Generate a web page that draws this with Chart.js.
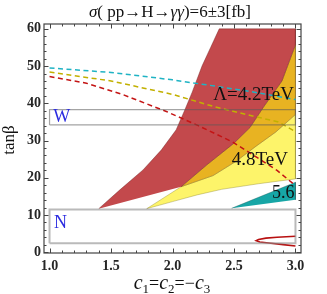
<!DOCTYPE html>
<html>
<head>
<meta charset="utf-8">
<script src="https://cdn.jsdelivr.net/npm/chart.js@4.4.1/dist/chart.umd.min.js"></script>
<style>
  html, body { margin: 0; padding: 0; background: #fff; }
  canvas { display: block; }
</style>
</head>
<body>
<canvas id="chart" width="327" height="294"></canvas>
<script>
// axis ticks
const xTicks = [1.0, 1.5, 2.0, 2.5, 3.0];
const yTicks = [0, 10, 20, 30, 40, 50, 60];

// Lambda = 4.2 TeV band (red): left edge, bottom to top
const redLeft = [[1.40, 11.7], [1.57, 16.7], [1.76, 22.1], [1.91, 27.5], [2.03, 32.9],
  [2.10, 38.2], [2.16, 43.0], [2.24, 50.0], [2.31, 55.0], [2.38, 60.0]];
// red / orange edge, bottom to top
const redRight = [[2.07, 17.6], [2.28, 23.5], [2.50, 29.3], [2.63, 33.5], [2.74, 39.0],
  [2.89, 46.0], [3.0, 55.7]];
// orange / yellow edge, bottom to top
const orangeLow = [[2.07, 17.6], [2.33, 20.6], [2.52, 24.5], [2.68, 28.5], [2.84, 32.3], [3.0, 37.0]];
// Lambda = 4.8 TeV band (yellow): lower edge
const yellowLow = [[1.79, 11.7], [2.0, 13.6], [2.2, 15.4], [2.4, 16.9], [2.7, 18.4], [3.0, 19.7]];
// Lambda = 5.6 TeV band (teal)
const tealEdge = [[2.48, 11.8], [3.0, 18.8], [3.0, 14.1]];

// dashed curves
const dashCyan = [[1.0, 49.5], [1.5, 48.3], [2.0, 46.3], [2.35, 44.6], [2.7, 42.8], [3.0, 41.0]];
const dashOlive = [[1.0, 48.4], [1.5, 46.0], [2.0, 42.4], [2.35, 39.0], [2.6, 37.0], [2.86, 35.0], [3.0, 32.4]];
const dashRed = [[1.0, 47.2], [1.3, 45.4], [1.6, 42.3], [1.95, 37.8], [2.21, 34.0], [2.49, 29.6],
  [2.68, 25.6], [2.85, 22.0], [3.0, 17.9]];
// small red contour near the bottom right
const redLoop = [[3.0, 4.3], [2.85, 4.05], [2.76, 3.8], [2.70, 3.45], [2.68, 3.1], [2.71, 2.75],
  [2.8, 2.4], [2.9, 2.05], [3.0, 1.7]];

// excluded strips W and N
const bandX = [1.0, 3.0];
const wBand = [34.2, 38.3];
const nBand = [2.4, 11.5];
const tanTop = 60;

const pts = list => list.map(p => ({ x: p[0], y: p[1] }));
const rect = (xs, ys) => pts([[xs[0], ys[0]], [xs[1], ys[0]], [xs[1], ys[1]], [xs[0], ys[1]], [xs[0], ys[0]]]);

const redPoly = [...redLeft, [bandX[1], tanTop], ...redRight.slice().reverse()];
const orangePoly = [...redRight, ...orangeLow.slice().reverse()];
const yellowPoly = [yellowLow[0], ...orangeLow, ...yellowLow.slice().reverse()];

const area = (data, fillColor, edge, order) => ({
  data: pts(data), showLine: true, fill: 'shape', backgroundColor: fillColor,
  borderColor: edge, borderWidth: 0.6, pointRadius: 0, order
});
const dash = (data, color, order) => ({
  data: pts(data), showLine: true, fill: false, borderColor: color,
  borderWidth: 1.5, borderDash: [5, 3.5], pointRadius: 0, order
});

const serif = "'Liberation Serif', 'DejaVu Serif', serif";

const labels = [
  { text: 'Λ=4.2TeV', x: 2.66, y: 42.2, size: 19, color: '#111' },
  { text: '4.8TeV', x: 2.71, y: 24.8, size: 19, color: '#111' },
  { text: '5.6', x: 2.90, y: 15.8, size: 18, color: '#111' },
  { text: 'W', x: 1.10, y: 36.2, size: 18, color: '#2b2be0' },
  { text: 'N', x: 1.09, y: 7.7, size: 18, color: '#2b2be0' }
];

const framePlugin = {
  id: 'frame',
  afterDraw(chart) {
    const ctx = chart.ctx;
    const a = chart.chartArea;
    const xs = chart.scales.x, ys = chart.scales.y;
    ctx.save();

    // labels in the plot
    ctx.textAlign = 'center';
    ctx.textBaseline = 'middle';
    labels.forEach(l => {
      ctx.font = l.size + 'px ' + serif;
      ctx.fillStyle = l.color;
      ctx.fillText(l.text, xs.getPixelForValue(l.x), ys.getPixelForValue(l.y));
    });

    // frame
    ctx.strokeStyle = '#444';
    ctx.lineWidth = 1.2;
    ctx.strokeRect(a.left, a.top, a.right - a.left, a.bottom - a.top);

    // ticks, inward on all four sides
    ctx.lineWidth = 1;
    ctx.beginPath();
    for (let i = 0; i <= 20; i++) {
      const v = xTicks[0] + i * 0.1;
      const px = Math.round(xs.getPixelForValue(v)) + 0.5;
      const len = i % 5 === 0 ? 4.5 : 2.5;
      ctx.moveTo(px, a.bottom); ctx.lineTo(px, a.bottom - len);
      ctx.moveTo(px, a.top); ctx.lineTo(px, a.top + len);
    }
    for (let i = 0; i <= 30; i++) {
      const v = yTicks[0] + i * 2;
      const py = Math.round(ys.getPixelForValue(v)) + 0.5;
      const len = i % 5 === 0 ? 4.5 : 2.5;
      ctx.moveTo(a.left, py); ctx.lineTo(a.left + len, py);
      ctx.moveTo(a.right, py); ctx.lineTo(a.right - len, py);
    }
    ctx.stroke();

    // title
    const parts = [['σ', 'italic '], ['( pp→H→', ''], ['γγ', 'italic '], [')=6±3[fb]', '']];
    ctx.fillStyle = '#111';
    ctx.textAlign = 'left';
    ctx.textBaseline = 'alphabetic';
    let w = 0;
    parts.forEach(p => { ctx.font = p[1] + '17px ' + serif; w += ctx.measureText(p[0]).width; });
    let x = 170 - w / 2;
    parts.forEach(p => {
      ctx.font = p[1] + '17px ' + serif;
      ctx.fillText(p[0], x, 17);
      x += ctx.measureText(p[0]).width;
    });

    // x axis title c1=c2=-c3
    const xt = [['c', 'italic 20px ', 0], ['1', '13px ', 4], ['=', '18px ', 0], ['c', 'italic 20px ', 0],
      ['2', '13px ', 4], ['=−', '18px ', 0], ['c', 'italic 20px ', 0], ['3', '13px ', 4]];
    w = 0;
    xt.forEach(p => { ctx.font = p[1] + serif; w += ctx.measureText(p[0]).width; });
    x = 172 - w / 2;
    xt.forEach(p => {
      ctx.font = p[1] + serif;
      ctx.fillText(p[0], x, 289 + p[2]);
      x += ctx.measureText(p[0]).width;
    });

    // y axis title
    ctx.translate(14, 140);
    ctx.rotate(-Math.PI / 2);
    ctx.textAlign = 'center';
    ctx.font = '17px ' + serif;
    ctx.fillText('tanβ', 0, 0);
    ctx.restore();
  }
};

new Chart(document.getElementById('chart'), {
  type: 'scatter',
  data: {
    datasets: [
      { data: rect(bandX, wBand), showLine: true, fill: false, borderColor: 'rgba(90,90,90,0.55)', borderWidth: 1.2, pointRadius: 0, order: 0 },
      { data: rect(bandX, nBand), showLine: true, fill: false, borderColor: 'rgba(140,140,140,0.6)', borderWidth: 2, pointRadius: 0, order: 0 },
      dash(dashCyan, '#1fb3c4', 1),
      dash(dashOlive, '#c2b000', 1),
      dash(dashRed, '#c41414', 1),
      { data: pts(redLoop), showLine: true, fill: false, borderColor: '#b81010', borderWidth: 1.6, pointRadius: 0, order: 1 },
      area(redPoly, '#c3494c', 'rgba(110,30,30,0.7)', 5),
      area(orangePoly, '#e8b322', 'rgba(120,90,20,0.6)', 5),
      area(yellowPoly, '#fdf46a', 'rgba(130,120,30,0.6)', 5),
      area(tealEdge, '#17a6a6', 'rgba(20,80,80,0.6)', 5)
    ]
  },
  options: {
    responsive: false,
    animation: false,
    layout: { padding: { top: 24, right: 26, left: 0, bottom: 0 } },
    plugins: { legend: { display: false }, tooltip: { enabled: false } },
    scales: {
      x: {
        type: 'linear', min: 0.955, max: 3.045,
        afterBuildTicks: s => { s.ticks = xTicks.map(v => ({ value: v })); },
        afterFit: s => { s.height = 41; },
        grid: { display: false, drawTicks: false },
        border: { display: false },
        ticks: { callback: v => v.toFixed(1), padding: 5, color: '#262626', maxRotation: 0,
          font: { family: serif, size: 14, weight: 'bold' } }
      },
      y: {
        type: 'linear', min: -0.2, max: 61.3,
        afterBuildTicks: s => { s.ticks = yTicks.map(v => ({ value: v })); },
        afterFit: s => { s.width = 44; },
        grid: { display: false, drawTicks: false },
        border: { display: false },
        ticks: { callback: v => String(v), padding: 3, color: '#262626',
          font: { family: serif, size: 14, weight: 'bold' } }
      }
    }
  },
  plugins: [framePlugin]
});
</script>
</body>
</html>
